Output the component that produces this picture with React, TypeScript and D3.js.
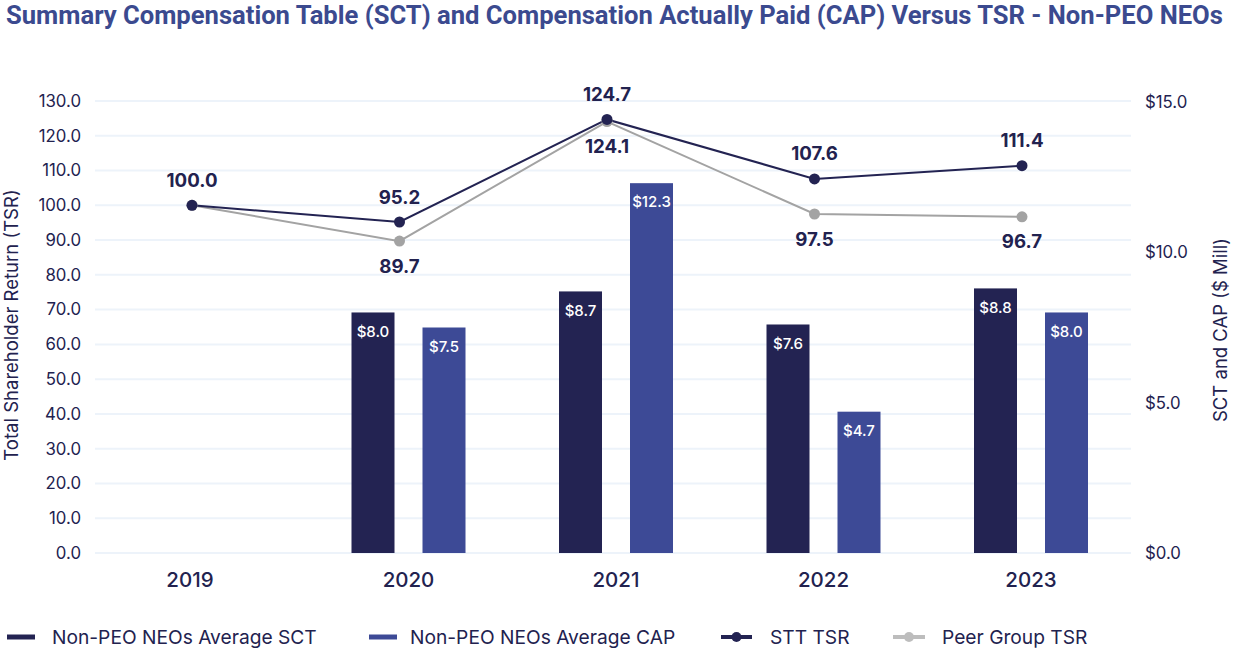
import React from "react";
import * as d3 from "d3";

const years = ["2019", "2020", "2021", "2022", "2023"];
const sctValues: (number | null)[] = [null, 8.0, 8.7, 7.6, 8.8];
const capValues: (number | null)[] = [null, 7.5, 12.3, 4.7, 8.0];
const sttTsr = [100.0, 95.2, 124.7, 107.6, 111.4];
const peerTsr = [100.0, 89.7, 124.1, 97.5, 96.7];
const leftTicks = d3.range(0, 131, 10);
const rightTicks = [0, 5, 10, 15];

const W = 1240;
const H = 652;
const DARK = "#232352";
const BLUE = "#3d4a96";
const GREY = "#a3a3a3";
const TEXT = "#22224f";
const FONT = "Inter, 'Noto Sans', sans-serif";

export default function App() {
  const x = d3.scalePoint<string>().domain(years).range([192, 1022]);
  const yL = d3.scaleLinear().domain([0, 130]).range([553, 101]);
  const yR = d3.scaleLinear().domain([0, 15]).range([553, 102]);
  const barW = 43;
  const off = 35.5;
  const barShift = 9;

  const line = d3
    .line<number>()
    .x((_, i) => x(years[i])!)
    .y((d) => yL(d));

  return (
    <svg width={W} height={H} style={{ position: "absolute", left: 0, top: 0, background: "#fff" }}>
      <text x={6} y={24} fontFamily="Roboto, 'Liberation Sans', sans-serif" fontWeight={700} fontSize={25.6} fill="#3b4a8f">
        Summary Compensation Table (SCT) and Compensation Actually Paid (CAP) Versus TSR - Non-PEO NEOs
      </text>

      {leftTicks.map((t) => (
        <g key={"g" + t}>
          <line x1={95} x2={1131} y1={yL(t)} y2={yL(t)} stroke="#edf3fa" strokeWidth={2} />
          <text x={81} y={yL(t)} dy="0.35em" textAnchor="end" fontFamily={FONT} fontSize={16.8} fill={TEXT}>
            {d3.format(".1f")(t)}
          </text>
        </g>
      ))}
      {rightTicks.map((t) => (
        <text key={"r" + t} x={1145} y={yR(t)} dy="0.35em" fontFamily={FONT} fontSize={16.8} fill={TEXT}>
          {"$" + d3.format(".1f")(t)}
        </text>
      ))}
      <text
        transform={`translate(18,325) rotate(-90)`}
        textAnchor="middle"
        fontFamily={FONT}
        fontSize={18.5}
        fill={TEXT}
      >
        Total Shareholder Return (TSR)
      </text>
      <text
        transform={`translate(1227,330) rotate(-90)`}
        textAnchor="middle"
        fontFamily={FONT}
        fontSize={18.5}
        fill={TEXT}
      >
        SCT and CAP ($ Mill)
      </text>

      {years.map((yr) => (
        <text key={"c" + yr} x={x(yr)! + (yr === "2019" ? -2 : barShift)} y={580} dy="0.35em" textAnchor="middle" fontFamily={FONT} fontSize={20.5} fontWeight={500} fill={TEXT}>
          {yr}
        </text>
      ))}

      {years.map((yr, i) => {
        const s = sctValues[i];
        const c = capValues[i];
        const cx = x(yr)! + barShift;
        return (
          <g key={"b" + yr}>
            {s != null && (
              <g>
                <rect x={cx - off - barW / 2} y={yR(s)} width={barW} height={yR(0) - yR(s)} fill={DARK} />
                <text x={cx - off} y={yR(s) + 19} dy="0.35em" textAnchor="middle" fontFamily={FONT} fontSize={15} fontWeight={500} fill="#fff">
                  {"$" + d3.format(".1f")(s)}
                </text>
              </g>
            )}
            {c != null && (
              <g>
                <rect x={cx + off - barW / 2} y={yR(c)} width={barW} height={yR(0) - yR(c)} fill={BLUE} />
                <text x={cx + off} y={yR(c) + 19} dy="0.35em" textAnchor="middle" fontFamily={FONT} fontSize={15} fontWeight={500} fill="#fff">
                  {"$" + d3.format(".1f")(c)}
                </text>
              </g>
            )}
          </g>
        );
      })}

      <path d={line(peerTsr)!} fill="none" stroke={GREY} strokeWidth={2} />
      <path d={line(sttTsr)!} fill="none" stroke={DARK} strokeWidth={2} />
      {peerTsr.map((v, i) => (
        <circle key={"pp" + i} cx={x(years[i])} cy={yL(v)} r={5.5} fill={GREY} />
      ))}
      {sttTsr.map((v, i) => (
        <circle key={"sp" + i} cx={x(years[i])} cy={yL(v)} r={5.5} fill={DARK} />
      ))}
      {sttTsr.map((v, i) => (
        <text key={"sl" + i} x={x(years[i])} y={yL(v) - 25} dy="0.35em" textAnchor="middle" fontFamily={FONT} fontSize={18.7} fontWeight={700} fill={TEXT}>
          {d3.format(".1f")(v)}
        </text>
      ))}
      {peerTsr.map((v, i) =>
        i === 0 ? null : (
          <text key={"pl" + i} x={x(years[i])} y={yL(v) + 25} dy="0.35em" textAnchor="middle" fontFamily={FONT} fontSize={18.7} fontWeight={700} fill={TEXT}>
            {d3.format(".1f")(v)}
          </text>
        )
      )}

      {/* legend */}
      <g fontFamily={FONT} fontSize={19.2} fill={TEXT}>
        <line x1={7} x2={35} y1={637} y2={637} stroke={DARK} strokeWidth={5} />
        <text x={52} y={637} dy="0.35em">Non-PEO NEOs Average SCT</text>
        <line x1={369} x2={397} y1={637} y2={637} stroke={BLUE} strokeWidth={5} />
        <text x={410} y={637} dy="0.35em">Non-PEO NEOs Average CAP</text>
        <line x1={721} x2={752} y1={637} y2={637} stroke={DARK} strokeWidth={4} />
        <circle cx={736.5} cy={637} r={5} fill={DARK} />
        <text x={770} y={637} dy="0.35em">STT TSR</text>
        <line x1={893} x2={925} y1={637} y2={637} stroke="#bdbdbd" strokeWidth={4} />
        <circle cx={909} cy={637} r={5} fill="#bdbdbd" />
        <text x={942} y={637} dy="0.35em">Peer Group TSR</text>
      </g>
    </svg>
  );
}
